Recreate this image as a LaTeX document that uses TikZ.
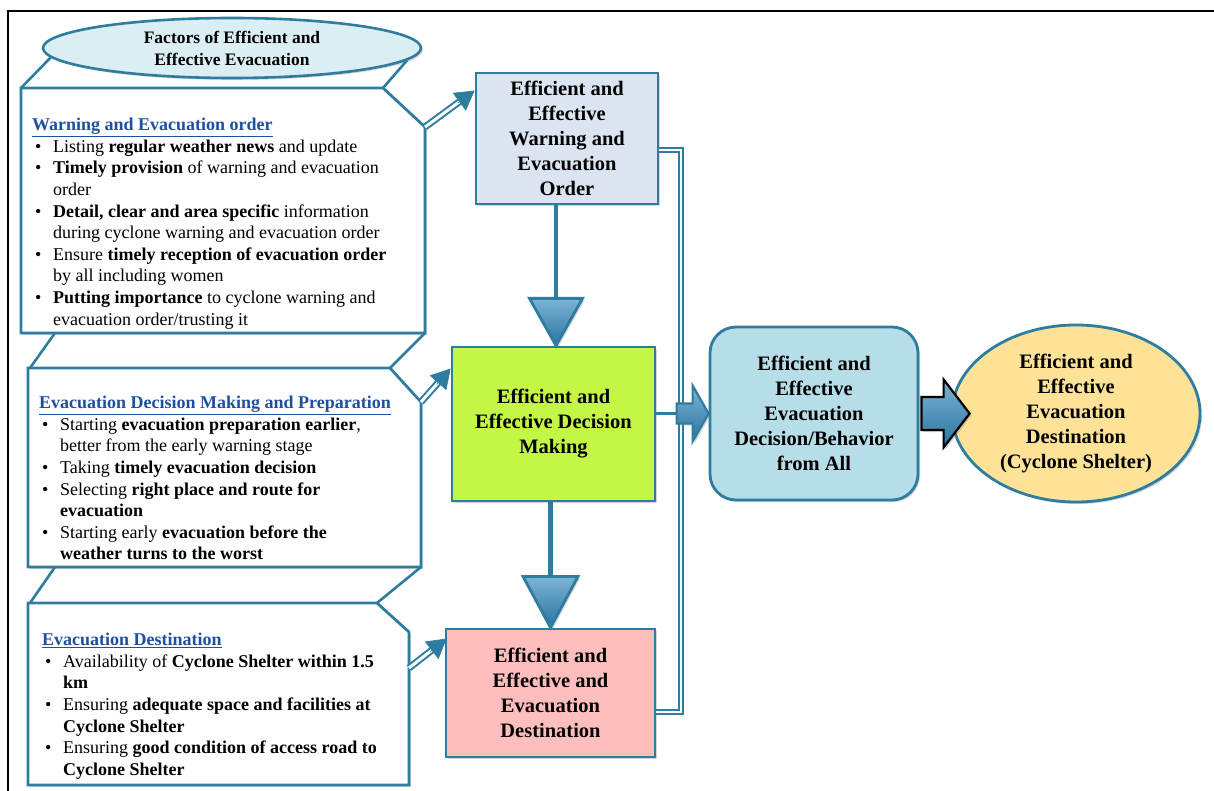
\documentclass[tikz,border=0pt]{standalone}
\usepackage{fontspec}
\setmainfont{Liberation Serif}
\usetikzlibrary{calc,arrows.meta,shadows,shapes.geometric}
\definecolor{bl}{RGB}{46,125,160}
\definecolor{hd}{RGB}{30,80,160}
\definecolor{ellfill}{RGB}{218,238,243}
\definecolor{afill}{RGB}{219,229,241}
\definecolor{bfill}{RGB}{196,246,70}
\definecolor{cfill}{RGB}{255,190,190}
\definecolor{dfill}{RGB}{183,222,232}
\definecolor{efill}{RGB}{253,226,152}
\definecolor{arlight}{RGB}{125,180,212}
\definecolor{ardark}{RGB}{42,115,160}
\newcommand{\hdg}[1]{{\color{hd}\bfseries\underline{#1}}}
\newcommand{\bul}{\hspace*{3pt}\makebox[18pt][l]{•}}
\newcommand{\ind}{\hspace*{21pt}}
\tikzset{
  shad/.style={drop shadow={shadow xshift=2pt,shadow yshift=-2pt,opacity=0.25,fill=black!60}},
  callout/.style={draw=bl,line width=2.8pt,fill=white,line join=miter},
  calline/.style={draw=bl,line width=2.6pt},
  ctext/.style={font=\fontsize{18}{21.6}\selectfont,align=left,inner sep=0pt},
  mainbox/.style={draw=bl,line width=2.8pt,font=\fontsize{20.5}{25}\selectfont\bfseries,align=center,inner sep=2pt,shad},
  dblshaft/.style={draw=bl,double=white,line width=2pt,double distance=3pt},
  dbltip/.style={draw=bl,line width=0.6pt,-{Triangle[length=19pt,width=22pt]}},
  stem/.style={draw=bl,line width=4.5pt},
  bigtri/.style={draw=bl,line width=2.8pt,line join=miter,top color=arlight,bottom color=ardark,shad},
  bus/.style={draw=bl,double=white,line width=1.5pt,double distance=2.5pt},
  fatarrow/.style={line width=2.2pt,line join=miter,top color=arlight,bottom color=ardark,shad}
}
\begin{document}
\begin{tikzpicture}[x=1pt,y=-1pt]
\useasboundingbox (0,0) rectangle (1214,791);
\fill[white] (0,0) rectangle (1214,791);
% frame
\draw[line width=2pt,black] (8,791) -- (8,11) -- (1214,11);

% title ellipse
\node[ellipse,draw=bl,line width=2.6pt,fill=ellfill,minimum width=378pt,minimum height=60pt,inner sep=0pt,
  font=\fontsize{17.5}{22}\selectfont\bfseries,align=center,shad] (title) at (232,48)
  {Factors of Efficient and\\Effective Evacuation};

% callout 1
\draw[callout,shad] (21,88) coordinate (c1tl) -- (383,88) coordinate (c1tr) -- (425,127) coordinate (c1ch)
  -- (425,333) coordinate (c1br) -- (21,333) coordinate (c1bl) -- cycle;
\draw[calline] (c1tl) -- (title.183.5);
\draw[calline] (c1tr) -- (title.356);
\coordinate (c1bA) at (55,333);
% callout 2
\draw[callout,shad] (28,368) coordinate (c2tl) -- (390,368) coordinate (c2tr) -- (421,402) coordinate (c2ch)
  -- (421,567) coordinate (c2br) -- (28,567) coordinate (c2bl) -- cycle;
\draw[calline] (30,368) coordinate (c2tlx) -- (c1bA);
\draw[calline] (c2tr) -- (c1br);
\coordinate (c2bA) at (55,567);
% callout 3
\draw[callout,shad] (28,603) coordinate (c3tl) -- (377,603) coordinate (c3tr) -- (409,632) coordinate (c3ch)
  -- (409,785) coordinate (c3br) -- (28,785) coordinate (c3bl) -- cycle;
\draw[calline] (30,603) coordinate (c3tlx) -- (c2bA);
\draw[calline] (c3tr) -- (c2br);
\coordinate (c3arr) at (409,668);

% callout texts
\node[ctext,anchor=north west] (t1) at (32,118) {\hdg{Warning and Evacuation order}\\
\bul Listing \textbf{regular weather news} and update\\
\bul \textbf{Timely provision} of warning and evacuation\\
\ind order\\
\bul \textbf{Detail, clear and area specific} information\\
\ind during cyclone warning and evacuation order\\
\bul Ensure \textbf{timely reception of evacuation order}\\
\ind by all including women\\
\bul \textbf{Putting importance} to cyclone warning and\\
\ind evacuation order/trusting it};

\node[ctext,anchor=north west] (t2) at (39,396) {\hdg{Evacuation Decision Making and Preparation}\\
\bul Starting \textbf{evacuation preparation earlier},\\
\ind better from the early warning stage\\
\bul Taking \textbf{timely evacuation decision}\\
\bul Selecting \textbf{right place and route for}\\
\ind \textbf{evacuation}\\
\bul Starting early \textbf{evacuation before the}\\
\ind \textbf{weather turns to the worst}};

\node[ctext,anchor=north west] (t3) at (42,633) {\hdg{Evacuation Destination}\\
\bul Availability of \textbf{Cyclone Shelter within 1.5}\\
\ind \textbf{km}\\
\bul Ensuring \textbf{adequate space and facilities at}\\
\ind \textbf{Cyclone Shelter}\\
\bul Ensuring \textbf{good condition of access road to}\\
\ind \textbf{Cyclone Shelter}};

% main boxes
\node[mainbox,fill=afill,minimum width=182pt,minimum height=131pt] (A) at (567,138.5)
  {Efficient and\\Effective\\Warning and\\Evacuation\\Order};
\node[mainbox,fill=bfill,minimum width=203pt,minimum height=154pt] (B) at (553.5,424)
  {Efficient and\\Effective Decision\\Making};
\node[mainbox,fill=cfill,minimum width=209pt,minimum height=128pt] (C) at (550.5,693)
  {Efficient and\\Effective and\\Evacuation\\Destination};
\node[mainbox,fill=dfill,rounded corners=26pt,minimum width=208pt,minimum height=173pt] (D) at (814,413.5)
  {Efficient and\\Effective\\Evacuation\\Decision/Behavior\\from All};
\node[mainbox,ellipse,fill=efill,minimum width=248pt,minimum height=177pt,inner sep=0pt] (E) at (1076,413.5)
  {Efficient and\\Effective\\Evacuation\\Destination\\(Cyclone Shelter)};

% double arrows from callouts
\coordinate (tip1) at ($(A.north west)+(0,19)$);
\coordinate (tip2) at ($(B.north west)+(0,23)$);
\coordinate (tip3) at ($(C.north west)+(2,11)$);
\foreach \s/\t in {c1ch/tip1,c2ch/tip2,c3arr/tip3}{
  \draw[dblshaft] (\s) -- ($(\t)!16pt!(\s)$);
  \draw[dbltip] ($(\t)!21pt!(\s)$) -- (\t);
}

% big down arrows
\coordinate (ta) at ($(A.south -| B.north)+(2.5,93)$);
\draw[stem] (A.south -| ta) -- (ta);
\draw[bigtri] ($(ta)+(-26.5,0)$) -- ($(ta)+(26.5,0)$) -- (B.north -| ta) -- cycle;
\coordinate (tb) at ($(B.south -| C.north)+(0,74)$);
\draw[stem] (B.south -| tb) -- (tb);
\draw[bigtri] ($(tb)+(-27.5,0)$) -- ($(tb)+(27.5,0)$) -- (C.north -| tb) -- cycle;

% bus on the right
\coordinate (busx) at (681,0);
\coordinate (aout) at ($(A.east)+(0,11.5)$);
\coordinate (cout) at ($(C.east)+(0,19)$);
\draw[bus] (aout) -- (aout -| busx) -- (cout -| busx) -- (cout);
\draw[draw=bl,line width=2.2pt] (B.east |- D.west) -- (D.west -| busx);

% fat arrow bus -> D
\coordinate (fa) at (D.west);
\draw[fatarrow,draw=bl] ($(fa)+(-32,-10)$) -- ($(fa)+(-16,-10)$) -- ($(fa)+(-16,-28)$) -- (fa)
  -- ($(fa)+(-16,28)$) -- ($(fa)+(-16,10)$) -- ($(fa)+(-32,10)$) -- cycle;
% fat arrow D -> E
\coordinate (fb) at ($(E.west)+(19,0)$);
\draw[fatarrow,draw=black] ($(D.east)+(2,-16.5)$) -- ($(fb)+(-26,-16.5)$) -- ($(fb)+(-26,-34)$) -- (fb)
  -- ($(fb)+(-26,34)$) -- ($(fb)+(-26,16.5)$) -- ($(D.east)+(2,16.5)$) -- cycle;
\end{tikzpicture}
\end{document}
